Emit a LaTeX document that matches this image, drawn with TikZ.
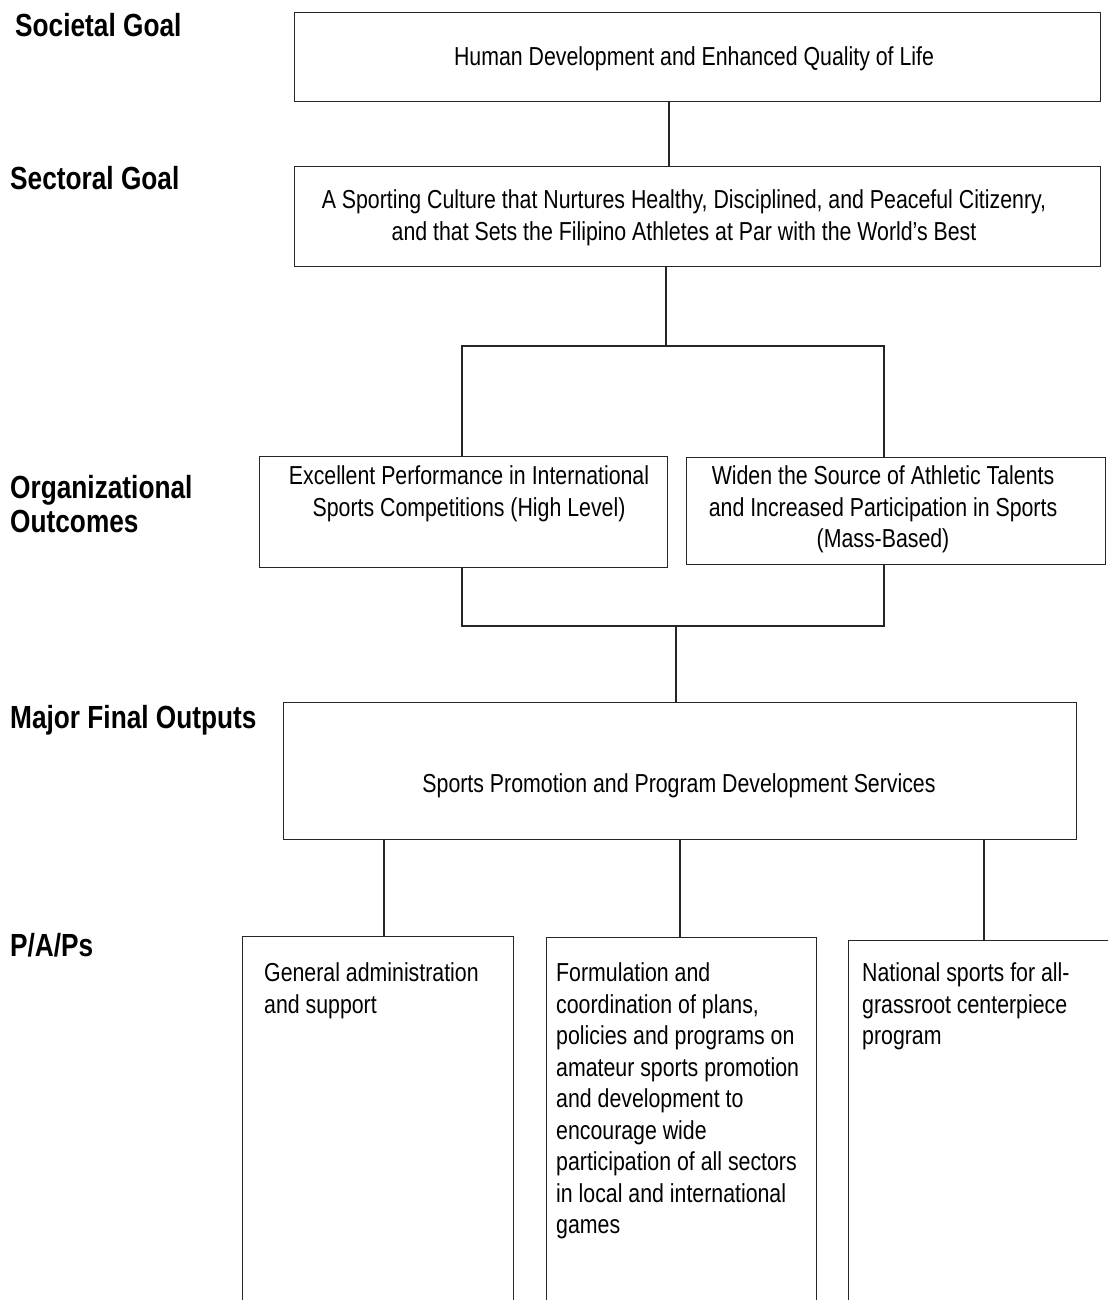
\documentclass[tikz,border=0pt]{standalone}
\usepackage{fontspec}
\setmainfont{Liberation Sans}[FakeStretch=0.82]
\begin{document}
\begin{tikzpicture}[x=1bp,y=-1bp,
  box/.style={draw=black!85, line width=1.2bp, inner sep=0pt, anchor=north west},
  txt/.style={inner sep=0pt, font=\fontsize{26bp}{31.5bp}\selectfont, align=center, anchor=north},
  ltxt/.style={inner sep=0pt, font=\fontsize{26bp}{31.5bp}\selectfont, align=left, anchor=north west},
  lab/.style={inner sep=0pt, font=\fontsize{32bp}{34bp}\selectfont\bfseries, align=left, anchor=north west},
  conn/.style={draw=black!85, line width=1.2bp}]
\useasboundingbox (0,0) rectangle (1108,1300);
\clip (0,0) rectangle (1108,1300);

% left labels
\node[lab] (l1) at (15,13.5) {Societal Goal};
\node[lab] (l2) at (10,166.5) {Sectoral Goal};
\node[lab] (l3) at (10,475.5) {Organizational\\Outcomes};
\node[lab] (l4) at (10,705.5) {Major Final Outputs};
\node[lab] (l5) at (10,933.5) {P/A/Ps};

% boxes
\node[box, minimum width=806bp, minimum height=89bp] (b1) at (294,12) {};
\node[box, minimum width=806bp, minimum height=100bp] (b2) at (294,166) {};
\node[box, minimum width=408bp, minimum height=111bp] (b3) at (259,456) {};
\node[box, minimum width=419bp, minimum height=107bp] (b4) at (686,457) {};
\node[box, minimum width=793bp, minimum height=137bp] (b5) at (283,702) {};
\node[box, minimum width=271bp, minimum height=420bp] (b6) at (242,936) {};
\node[box, minimum width=270bp, minimum height=420bp] (b7) at (546,937) {};
\node[box, minimum width=300bp, minimum height=420bp] (b8) at (848,940) {};

% texts
\node[txt] (t1) at (694,46.7) {Human Development and Enhanced Quality of Life};
\node[txt] (t2) at (684,189.7) {A Sporting Culture that Nurtures Healthy, Disciplined, and Peaceful Citizenry,\\and that Sets the Filipino Athletes at Par with the World’s Best};
\node[txt] (t3) at (469,465.7) {Excellent Performance in International\\Sports Competitions (High Level)};
\node[txt] (t4) at (883,465.7) {Widen the Source of Athletic Talents\\and Increased Participation in Sports\\(Mass-Based)};
\node[txt] (t5) at (679,773.7) {Sports Promotion and Program Development Services};
\node[ltxt] (t6) at (264,962.7) {General administration\\and support};
\node[ltxt] (t7) at (556,962.7) {Formulation and\\coordination of plans,\\policies and programs on\\amateur sports promotion\\and development to\\encourage wide\\participation of all sectors\\in local and international\\games};
\node[ltxt] (t8) at (862,962.7) {National sports for all-\\grassroot centerpiece\\program};

% connectors
\coordinate (c1) at (669,0);
\draw[conn] (b1.south -| c1) -- (b2.north -| c1);
\coordinate (j1) at (666,346);
\coordinate (jl) at (462,346);
\coordinate (jr) at (884,346);
\draw[conn] (b2.south -| j1) -- (j1);
\draw[conn] (b3.north -| jl) -- (jl) -- (jr) -- (b4.north -| jr);
\coordinate (j2) at (676,626);
\coordinate (kl) at (462,626);
\coordinate (kr) at (884,626);
\draw[conn] (b3.south -| kl) -- (kl) -- (kr) -- (b4.south -| kr);
\draw[conn] (j2) -- (b5.north -| j2);
\coordinate (d1) at (384,0);
\coordinate (d2) at (680,0);
\coordinate (d3) at (984,0);
\draw[conn] (b5.south -| d1) -- (b6.north -| d1);
\draw[conn] (b5.south -| d2) -- (b7.north -| d2);
\draw[conn] (b5.south -| d3) -- (b8.north -| d3);
\end{tikzpicture}
\end{document}
